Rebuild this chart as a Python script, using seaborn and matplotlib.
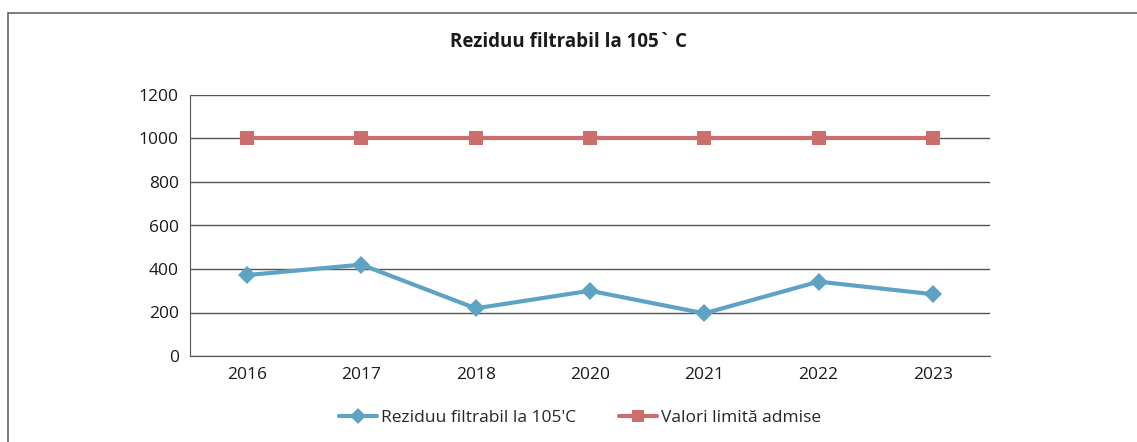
import pandas as pd
import matplotlib.pyplot as plt
import matplotlib.patches as mpatches
import seaborn as sns

# --- Data ---
years = ['2016', '2017', '2018', '2020', '2021', '2022', '2023']
reziduu = [372, 420, 219, 300, 196, 342, 284]
limita = [1000, 1000, 1000, 1000, 1000, 1000, 1000]
series_names = ["Reziduu filtrabil la 105'C", 'Valori limită admise']

df = pd.concat([
    pd.DataFrame({'An': years, 'Valoare': reziduu, 'Serie': series_names[0]}),
    pd.DataFrame({'An': years, 'Valoare': limita, 'Serie': series_names[1]}),
])

# --- Plot ---
sns.set_style('white')
plt.rcParams['font.family'] = ['Open Sans', 'DejaVu Sans']

fig = plt.figure(figsize=(11.37, 4.42), dpi=100)
ax = fig.add_axes([190 / 1137, 1 - 356 / 442, 800 / 1137, 261 / 442])

palette = {series_names[0]: '#5ea3c4', series_names[1]: '#cc6e6b'}
markers = {series_names[0]: 'D', series_names[1]: 's'}
sns.lineplot(data=df, x='An', y='Valoare', hue='Serie', style='Serie',
             palette=palette, markers=markers, dashes=False, linewidth=3,
             markersize=9.5, markeredgewidth=0, sort=False, ax=ax, legend=False)

ax.set_ylim(0, 1200)
ax.set_yticks(range(0, 1201, 200))
ax.set_xlim(-0.5, len(years) - 0.5)
ax.yaxis.grid(True, color='#555555', linewidth=1)
ax.set_axisbelow(True)
for side in ['top', 'right']:
    ax.spines[side].set_visible(False)
for side in ['left', 'bottom']:
    ax.spines[side].set_color('#555555')
ax.tick_params(axis='both', labelsize=12.5, colors='#1a1a1a', length=0, pad=8)
ax.set_xlabel('')
ax.set_ylabel('')

fig.text(0.5, 1 - 42 / 442, 'Reziduu filtrabil la 105` C', ha='center', va='center',
         fontsize=13.5, fontweight='bold', color='#1a1a1a')

# legend
handles = [plt.Line2D([], [], color=palette[s], marker=markers[s], linewidth=3,
                      markersize=8.5, markeredgewidth=0) for s in series_names]
fig.legend(handles, series_names, loc='center', bbox_to_anchor=(0.51, 1 - 418 / 442),
           ncol=2, frameon=False, fontsize=12.5, handlelength=2.2, columnspacing=2.5,
           handletextpad=0.2)

# outer chart frame
fig.patches.append(mpatches.Rectangle((8 / 1137, -0.1), 1.2, 1 - 13 / 442 + 0.1,
                                      transform=fig.transFigure, fill=False,
                                      edgecolor='#666666', linewidth=1.2))

fig.savefig('out.png', dpi=100)
plt.close(fig)
